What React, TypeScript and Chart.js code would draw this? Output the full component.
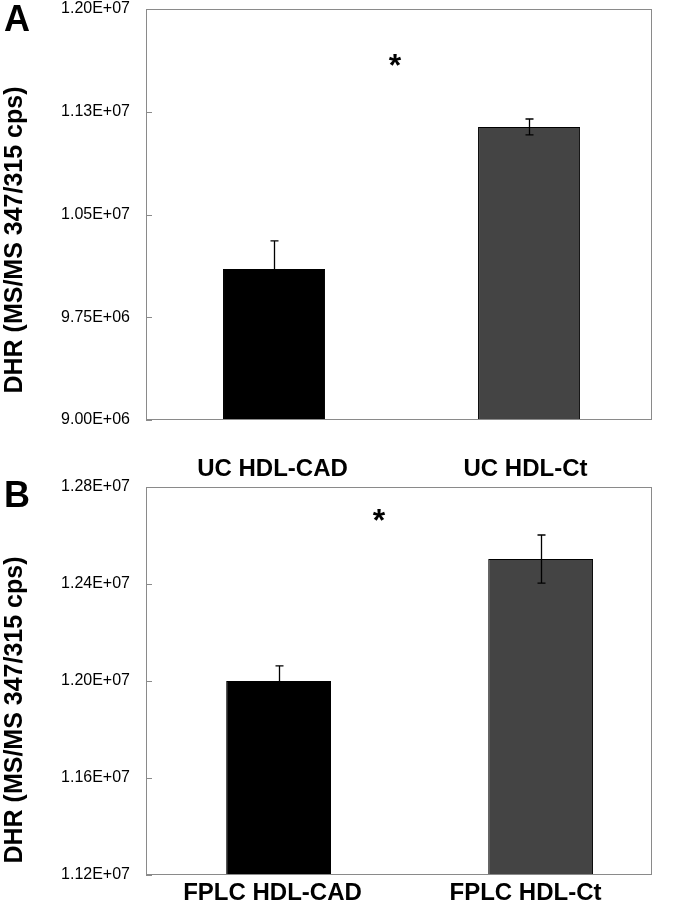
import React, { useEffect, useRef } from 'react';
import { Chart, registerables } from 'chart.js';

Chart.register(...registerables);

// ---------- data ----------
const categoriesA = ['UC HDL-CAD', 'UC HDL-Ct'];
const valuesA = [1.0102e7, 1.1139e7];
const errorsA = [2.05e5, 5.8e4];
const yTicksA = [9.0e6, 9.75e6, 1.05e7, 1.125e7, 1.2e7];

const categoriesB = ['FPLC HDL-CAD', 'FPLC HDL-Ct'];
const valuesB = [1.2e7, 1.2503e7];
const errorsB = [6.2e4, 9.9e4];
const yTicksB = [1.12e7, 1.16e7, 1.2e7, 1.24e7, 1.28e7];

const barColors = ['#000000', '#444444'];
const yTitle = 'DHR (MS/MS 347/315 cps)';

const FONT = "'Liberation Sans', Arial, Helvetica, sans-serif";

function excelExp(v: number): string {
  const [m, e] = v.toExponential(2).split('e');
  const sign = e[0] === '-' ? '-' : '+';
  const digits = e.replace(/[+-]/, '').padStart(2, '0');
  return `${m}E${sign}${digits}`;
}

const decorPlugin = {
  id: 'decor',
  afterDatasetsDraw(chart: any, _args: any, opts: any) {
    const { ctx, chartArea } = chart;
    const y = chart.scales.y;
    const meta = chart.getDatasetMeta(0);
    const values: number[] = opts.values || [];
    const errs: number[] = opts.errors || [];
    ctx.save();
    // error bars
    ctx.strokeStyle = '#000000';
    ctx.lineWidth = 1.3;
    meta.data.forEach((bar: any, i: number) => {
      const v = values[i];
      const e = errs[i] || 0;
      const pt = y.getPixelForValue(v + e);
      const pb = y.getPixelForValue(v - e);
      const x = Math.round(bar.x) + 0.5;
      ctx.beginPath();
      ctx.moveTo(x, pt);
      ctx.lineTo(x, pb);
      ctx.moveTo(x - 4, pt);
      ctx.lineTo(x + 4, pt);
      ctx.moveTo(x - 4, pb);
      ctx.lineTo(x + 4, pb);
      ctx.stroke();
    });
    // frame
    ctx.strokeStyle = '#8a8a8a';
    ctx.lineWidth = 1;
    ctx.strokeRect(
      Math.round(chartArea.left) + 0.5,
      Math.round(chartArea.top) + 0.5,
      Math.round(chartArea.right - chartArea.left) - 1,
      Math.round(chartArea.bottom - chartArea.top) - 1
    );
    // inside tick marks on y
    ctx.beginPath();
    y.ticks.forEach((_t: any, i: number) => {
      const py = Math.round(y.getPixelForTick(i)) + 0.5;
      ctx.moveTo(chartArea.left, py);
      ctx.lineTo(chartArea.left + 6, py);
    });
    ctx.stroke();
    ctx.restore();
  },
};

type PanelProps = {
  top: number;
  height: number;
  padTop: number;
  plotBottom: number; // relative to canvas
  labelPad: number;
  categories: string[];
  values: number[];
  errors: number[];
  ticks: number[];
  barPct: number;
  posMin: number;
  posMax: number;
};

function Panel(p: PanelProps) {
  const ref = useRef<HTMLCanvasElement | null>(null);
  useEffect(() => {
    if (!ref.current) return;
    const chart = new Chart(ref.current, {
      type: 'bar',
      data: {
        labels: p.categories,
        datasets: [
          {
            xAxisID: 'xb',
            data: p.values.map((v, i) => ({ x: i, y: v })),
            backgroundColor: barColors,
            borderColor: '#000000',
            borderWidth: 1,
            barPercentage: p.barPct,
            categoryPercentage: 1.0,
          } as any,
        ],
      },
      options: {
        responsive: false,
        animation: false,
        layout: { padding: { top: p.padTop, right: 22, left: 0, bottom: 0 } },
        plugins: {
          legend: { display: false },
          tooltip: { enabled: false },
          title: { display: false },
          decor: { errors: p.errors, values: p.values },
        } as any,
        scales: {
          x: {
            type: 'category',
            position: 'bottom',
            grid: { display: false, drawTicks: false },
            border: { display: false },
            ticks: {
              color: '#000',
              font: { family: FONT, size: 24, weight: 'bold' },
              padding: p.labelPad,
              maxRotation: 0,
            },
            afterFit: (s: any) => {
              s.height = p.height - p.plotBottom;
              s.paddingLeft = 0;
              s.paddingRight = 0;
            },
          },
          xb: {
            type: 'linear',
            position: 'bottom',
            display: false,
            offset: false,
            grid: { offset: false },
            min: p.posMin,
            max: p.posMax,
            afterBuildTicks: (s: any) => {
              s.ticks = p.categories.map((_c, i) => ({ value: i }));
            },
          },
          y: {
            min: p.ticks[0],
            max: p.ticks[p.ticks.length - 1],
            grid: { display: false, drawTicks: false },
            border: { display: false },
            afterBuildTicks: (s: any) => {
              s.ticks = p.ticks.map((v) => ({ value: v }));
            },
            ticks: {
              color: '#000',
              font: { family: FONT, size: 16 },
              padding: 16,
              callback: (v: any) => excelExp(Number(v)),
            },
            afterFit: (s: any) => {
              s.width = 146;
              s.paddingTop = 0;
              s.paddingBottom = 0;
            },
          },
        } as any,
      },
      plugins: [decorPlugin as any],
    });
    return () => chart.destroy();
  }, []);
  return (
    <canvas
      ref={ref}
      width={674}
      height={p.height}
      style={{ position: 'absolute', left: 0, top: p.top, width: 674, height: p.height }}
    />
  );
}

const textBase: React.CSSProperties = {
  position: 'absolute',
  fontFamily: FONT,
  fontWeight: 'bold',
  color: '#000',
  whiteSpace: 'nowrap',
};

function RotTitle({ cx, cy }: { cx: number; cy: number }) {
  return (
    <div
      style={{
        ...textBase,
        left: cx,
        top: cy,
        fontSize: 25,
        lineHeight: '25px',
        transform: 'translate(-50%, -50%) rotate(-90deg)',
      }}
    >
      {yTitle}
    </div>
  );
}

export default function App() {
  return (
    <div style={{ position: 'absolute', left: 0, top: 0, width: 674, height: 914, background: '#fff', overflow: 'hidden' }}>
      <Panel
        top={0}
        height={484}
        padTop={9}
        plotBottom={420}
        labelPad={35}
        categories={categoriesA}
        values={valuesA}
        errors={errorsA}
        ticks={yTicksA}
        barPct={0.4}
        posMin={-0.502}
        posMax={1.482}
      />
      <Panel
        top={470}
        height={444}
        padTop={17}
        plotBottom={405}
        labelPad={4}
        categories={categoriesB}
        values={valuesB}
        errors={errorsB}
        ticks={yTicksB}
        barPct={0.4}
        posMin={-0.506}
        posMax={1.425}
      />
      <div style={{ ...textBase, left: 4, top: 1, fontSize: 36, lineHeight: '36px' }}>A</div>
      <div style={{ ...textBase, left: 4, top: 477, fontSize: 36, lineHeight: '36px' }}>B</div>
      <RotTitle cx={13} cy={240} />
      <RotTitle cx={13} cy={710} />
      <div style={{ ...textBase, left: 395, top: 62, fontSize: 32, lineHeight: '32px', transform: 'translate(-50%, -40%)' }}>*</div>
      <div style={{ ...textBase, left: 379, top: 517, fontSize: 32, lineHeight: '32px', transform: 'translate(-50%, -40%)' }}>*</div>
    </div>
  );
}
